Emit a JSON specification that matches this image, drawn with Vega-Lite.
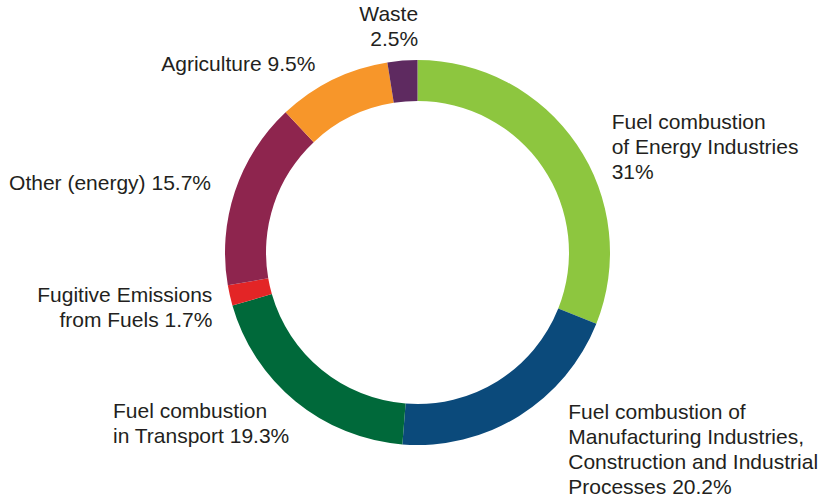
{
  "$schema": "https://vega.github.io/schema/vega-lite/v6.json",
  "width": 817,
  "height": 495,
  "autosize": "none",
  "padding": {"left": 9, "top": 5, "right": 0, "bottom": 0},
  "background": "white",
  "data": {
    "values": [
      {"category": "Fuel combustion of Energy Industries", "value": 31, "label": "Fuel combustion\nof Energy Industries\n31%"},
      {"category": "Fuel combustion of Manufacturing Industries, Construction and Industrial Processes", "value": 20.2, "label": "Fuel combustion of\nManufacturing Industries,\nConstruction and Industrial\nProcesses 20.2%"},
      {"category": "Fuel combustion in Transport", "value": 19.3, "label": "Fuel combustion\nin Transport 19.3%"},
      {"category": "Fugitive Emissions from Fuels", "value": 1.7, "label": "Fugitive Emissions\nfrom Fuels 1.7%"},
      {"category": "Other (energy)", "value": 15.7, "label": "Other (energy) 15.7%"},
      {"category": "Agriculture", "value": 9.5, "label": "Agriculture 9.5%"},
      {"category": "Waste", "value": 2.5, "label": "Waste\n2.5%"}
    ]
  },
  "transform": [{"window": [{"op": "row_number", "as": "idx"}]}],
  "encoding": {
    "theta": {"field": "value", "type": "quantitative", "stack": true},
    "order": {"field": "idx", "type": "quantitative"}
  },
  "layer": [
    {
      "mark": {"type": "arc", "outerRadius": 192.5, "innerRadius": 151.5},
      "encoding": {
        "color": {
          "field": "category",
          "type": "nominal",
          "legend": null,
          "scale": {
            "domain": [
              "Fuel combustion of Energy Industries",
              "Fuel combustion of Manufacturing Industries, Construction and Industrial Processes",
              "Fuel combustion in Transport",
              "Fugitive Emissions from Fuels",
              "Other (energy)",
              "Agriculture",
              "Waste"
            ],
            "range": ["#8DC63F", "#0B4A7B", "#00693A", "#E32526", "#8E254E", "#F7962A", "#5E2A60"]
          }
        }
      }
    },
    {
      "mark": {"type": "text", "radius": 200, "align": "left", "baseline": "middle", "dx": 28.6, "dy": -17, "lineBreak": "\n", "lineHeight": 25, "font": "Liberation Sans", "fontSize": 21, "fill": "#231F20"},
      "encoding": {"text": {"condition": {"test": "datum.idx === 1", "field": "label"}, "value": ""}}
    },
    {
      "mark": {"type": "text", "radius": 200, "align": "left", "baseline": "middle", "dx": 45.1, "dy": -9.6, "lineBreak": "\n", "lineHeight": 25, "font": "Liberation Sans", "fontSize": 21, "fill": "#231F20"},
      "encoding": {"text": {"condition": {"test": "datum.idx === 2", "field": "label"}, "value": ""}}
    },
    {
      "mark": {"type": "text", "radius": 200, "align": "left", "baseline": "middle", "dx": -177.9, "dy": 4.7, "lineBreak": "\n", "lineHeight": 25, "font": "Liberation Sans", "fontSize": 21, "fill": "#231F20"},
      "encoding": {"text": {"condition": {"test": "datum.idx === 3", "field": "label"}, "value": ""}}
    },
    {
      "mark": {"type": "text", "radius": 200, "align": "right", "baseline": "middle", "dx": -10.2, "dy": -1, "lineBreak": "\n", "lineHeight": 25, "font": "Liberation Sans", "fontSize": 21, "fill": "#231F20"},
      "encoding": {"text": {"condition": {"test": "datum.idx === 4", "field": "label"}, "value": ""}}
    },
    {
      "mark": {"type": "text", "radius": 200, "align": "right", "baseline": "middle", "dx": -16.8, "dy": -5, "lineBreak": "\n", "lineHeight": 25, "font": "Liberation Sans", "fontSize": 21, "fill": "#231F20"},
      "encoding": {"text": {"condition": {"test": "datum.idx === 5", "field": "label"}, "value": ""}}
    },
    {
      "mark": {"type": "text", "radius": 200, "align": "right", "baseline": "middle", "dx": -14.1, "dy": -7.5, "lineBreak": "\n", "lineHeight": 25, "font": "Liberation Sans", "fontSize": 21, "fill": "#231F20"},
      "encoding": {"text": {"condition": {"test": "datum.idx === 6", "field": "label"}, "value": ""}}
    },
    {
      "mark": {"type": "text", "radius": 200, "align": "right", "baseline": "middle", "dx": 16.3, "dy": -38.5, "lineBreak": "\n", "lineHeight": 25, "font": "Liberation Sans", "fontSize": 21, "fill": "#231F20"},
      "encoding": {"text": {"condition": {"test": "datum.idx === 7", "field": "label"}, "value": ""}}
    }
  ],
  "config": {"view": {"stroke": null}}
}
